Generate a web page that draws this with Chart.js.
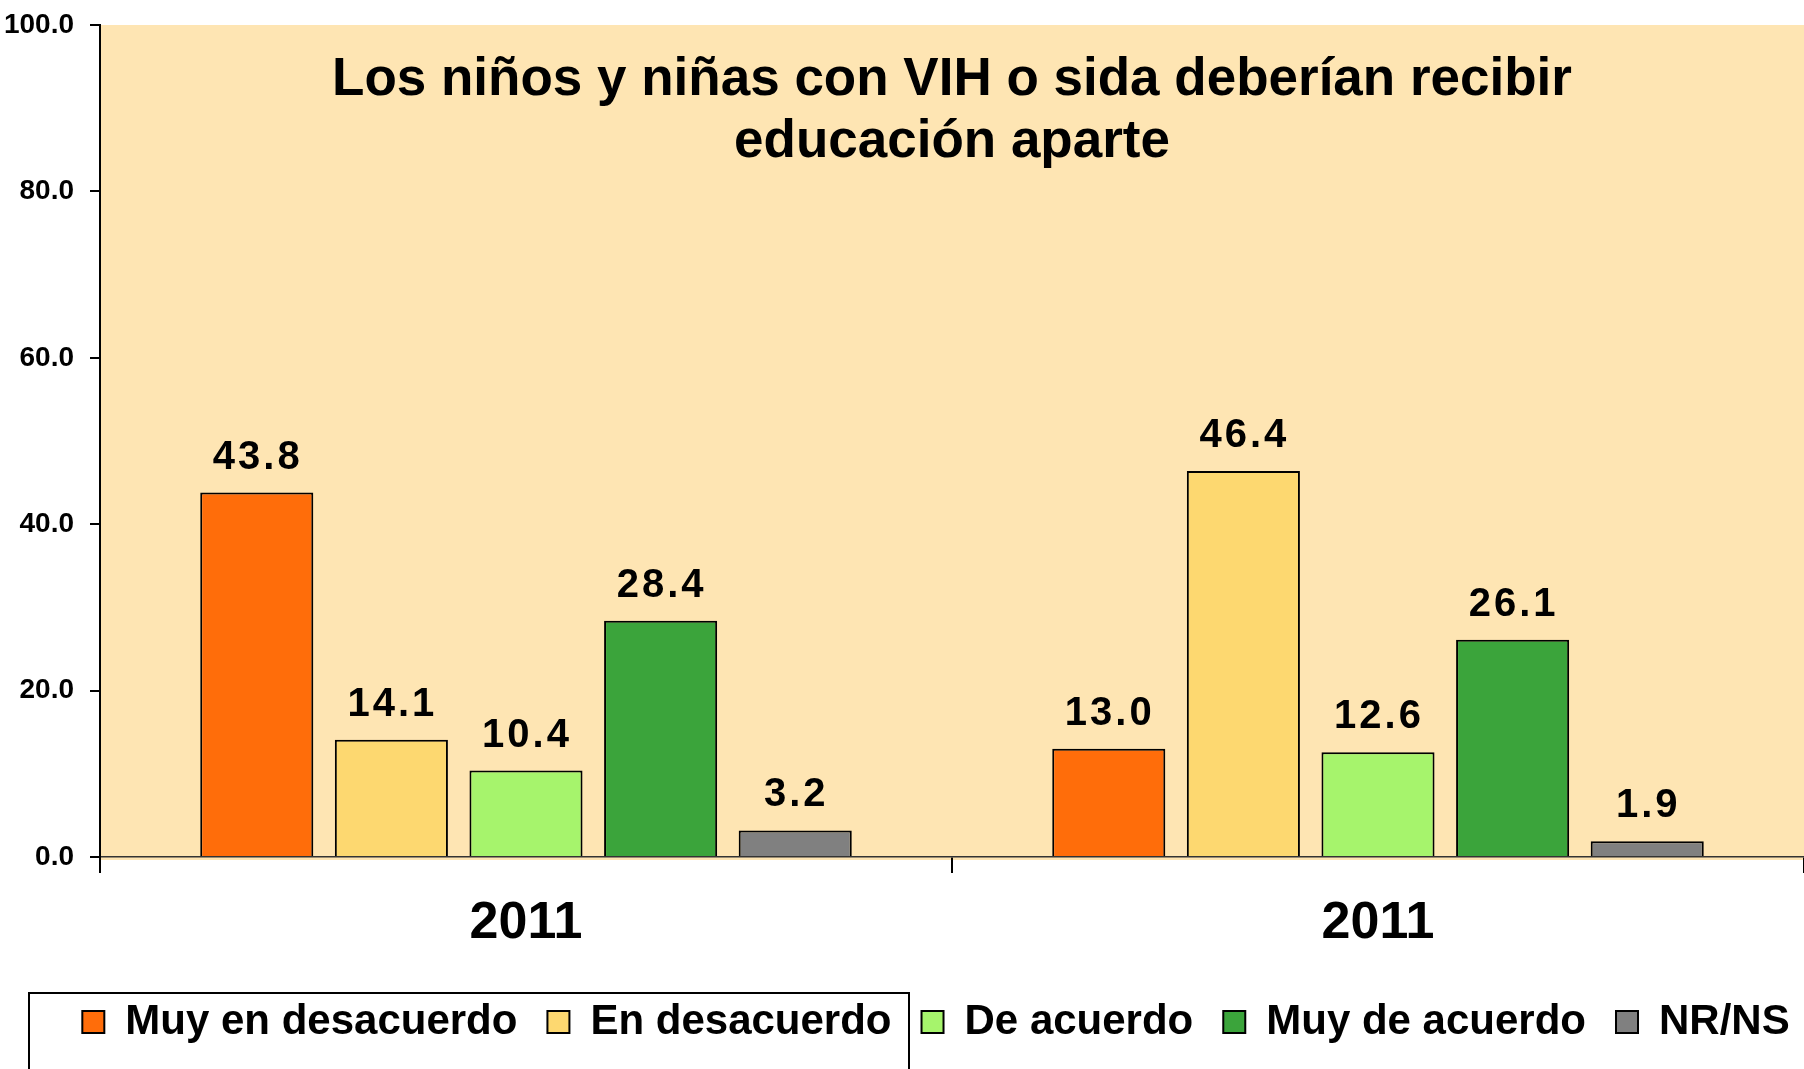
<!DOCTYPE html>
<html>
<head>
<meta charset="utf-8">
<script src="https://cdn.jsdelivr.net/npm/chart.js@4/dist/chart.umd.min.js"></script>
<style>
  html, body { margin: 0; padding: 0; background: #fff; }
  #wrap { width: 1804px; height: 1069px; position: relative; }
</style>
</head>
<body>
<div id="wrap"><canvas id="chart"></canvas></div>
<script>
// data
const yearLabels = ['2011', '2011'];
const muyEnDesacuerdo = [43.8, 13.0];
const enDesacuerdo = [14.1, 46.4];
const deAcuerdo = [10.4, 12.6];
const muyDeAcuerdo = [28.4, 26.1];
const nrNs = [3.2, 1.9];
const titleLines = ['Los niños y niñas con VIH o sida deberían recibir', 'educación aparte'];

const FONT = "'Liberation Sans', Arial, sans-serif";

const series = [
  { label: 'Muy en desacuerdo', data: muyEnDesacuerdo, color: '#FF6D0A' },
  { label: 'En desacuerdo', data: enDesacuerdo, color: '#FDD870' },
  { label: 'De acuerdo', data: deAcuerdo, color: '#A6F46C' },
  { label: 'Muy de acuerdo', data: muyDeAcuerdo, color: '#3BA43B' },
  { label: 'NR/NS', data: nrNs, color: '#808080' },
];

const plotBackground = {
  id: 'plotBackground',
  afterLayout(chart) {
    // the original legend sits a little right of centre
    chart.legend.left += 34;
    chart.legend.right += 34;
  },
  beforeDraw(chart) {
    const { ctx, chartArea: a } = chart;
    ctx.save();
    ctx.fillStyle = '#FEE5B3';
    ctx.fillRect(a.left, a.top, a.right - a.left, a.bottom - a.top + 3);
    ctx.restore();
  },
};

const valueLabels = {
  id: 'valueLabels',
  afterDatasetsDraw(chart) {
    const { ctx, chartArea: a } = chart;
    ctx.save();
    ctx.font = 'bold 40px ' + FONT;
    ctx.letterSpacing = '3px';
    ctx.fillStyle = '#000';
    ctx.textAlign = 'center';
    ctx.textBaseline = 'middle';
    chart.data.datasets.forEach((ds, i) => {
      chart.getDatasetMeta(i).data.forEach((bar, j) => {
        ctx.fillText(ds.data[j].toFixed(1), bar.x + 1, bar.y - 35);
      });
    });
    ctx.letterSpacing = '0px';
    // title sits inside the plot area
    ctx.font = 'bold 53px ' + FONT;
    const cx = (a.left + a.right) / 2;
    titleLines.forEach((line, k) => ctx.fillText(line, cx, a.top + 55 + k * 62));
    // legend frame (partial box seen in the original)
    ctx.strokeStyle = '#000';
    ctx.lineWidth = 2;
    ctx.strokeRect(29, 993, 880, 100);
    ctx.restore();
  },
};

new Chart(document.getElementById('chart'), {
  type: 'bar',
  data: {
    labels: yearLabels,
    datasets: series.map((s) => ({
      label: s.label,
      data: s.data,
      backgroundColor: s.color,
      borderColor: '#000',
      borderWidth: 2,
      categoryPercentage: 0.79,
      barPercentage: 0.84,
    })),
  },
  options: {
    responsive: true,
    maintainAspectRatio: false,
    animation: false,
    layout: { padding: { top: 25, right: 0, bottom: 16, left: 0 } },
    plugins: {
      title: { display: false },
      tooltip: { enabled: false },
      legend: {
        position: 'bottom',
        labels: {
          color: '#000',
          font: { family: FONT, size: 42, weight: 'bold' },
          boxWidth: 22,
          boxHeight: 22,
          padding: 30,
        },
      },
    },
    scales: {
      x: {
        afterFit(scale) { scale.height = 114; },
        border: { display: true, color: '#333', width: 1.5 },
        grid: { display: true, drawOnChartArea: false, tickLength: 16, color: '#000', lineWidth: 2 },
        ticks: { color: '#000', padding: 19, font: { family: FONT, size: 52, weight: 'bold' } },
      },
      y: {
        min: 0,
        max: 100,
        afterFit(scale) {
          scale.width = 100;
          scale.paddingTop = 0;
        },
        border: { display: true, color: '#000', width: 2 },
        grid: { display: true, drawOnChartArea: false, tickLength: 10, color: '#000', lineWidth: 2 },
        ticks: {
          stepSize: 20,
          color: '#000',
          padding: 16,
          font: { family: FONT, size: 28, weight: 'bold', lineHeight: 0.8 },
          callback: (v) => v.toFixed(1),
        },
      },
    },
  },
  plugins: [plotBackground, valueLabels],
});
</script>
</body>
</html>
